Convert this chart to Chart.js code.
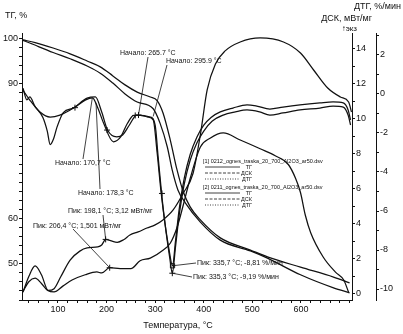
<!DOCTYPE html>
<html>
<head>
<meta charset="utf-8">
<title>ТГ / ДСК / ДТГ</title>
<script src="https://cdn.jsdelivr.net/npm/chart.js@4.4.1/dist/chart.umd.min.js"></script>
<style>
html, body { margin:0; padding:0; background:#fff; }
#wrap { width:403px; height:334px; }
</style>
</head>
<body>
<div id="wrap"><canvas id="c" width="403" height="334"></canvas></div>
<script>
// [temperature °C, value]
var tg1 = [[28,99.8],[53,99.2],[90,98.0],[125,96.7],[160,95.1],[187,93.8],[213,91.8],[238,89.8],[263,88.2],[290,87.1],[304,86.3],[316,83.6],[331,77.6],[345,70.9],[358,66.0],[372,62.7],[393,59.8],[434,55.8],[496,53.1],[531,51.6],[599,49.3],[667,47.1],[700,45.8]];
var tg2 = [[28,99.7],[42,99.1],[90,97.0],[125,95.6],[160,94.0],[187,92.4],[213,90.2],[238,87.8],[263,86.0],[296,84.5],[310,81.3],[325,76.0],[335,70.9],[347,66.4],[362,63.6],[393,59.3],[434,55.3],[496,52.9],[531,51.3],[599,47.6],[667,44.7],[700,43.6]];
var dsc1 = [[28,0.1],[40,1.0],[53,1.6],[66,1.1],[80,0.2],[92,0.3],[106,1.0],[125,1.94],[145,2.45],[160,2.63],[182,2.69],[190,2.8],[198.1,3.12],[208,3.05],[222,2.95],[235,3.1],[248,3.37],[265,3.55],[283,3.77],[300,3.95],[316,4.23],[337,4.8],[358,5.77],[378,6.9],[393,9.1],[407,11.66],[424,13.14],[444,13.89],[475,14.4],[516,14.63],[564,14.4],[599,13.77],[626,12.8],[655,11.77],[681,11.26],[698,10.97],[704,10.4]];
var dsc2 = [[28,0.15],[40,0.7],[53,0.9],[66,0.6],[79,0.2],[92,0.12],[110,0.45],[129,0.8],[156,1.1],[180,1.26],[190,1.2],[206.4,1.501],[228,1.45],[250,1.45],[269,1.9],[290,2.05],[316,2.5],[331,2.9],[345,3.8],[358,5.1],[372,6.6],[393,8.4],[413,8.9],[440,9.2],[475,8.8],[516,8.3],[547,7.9],[574,7.4],[589,6.6],[599,5.8],[609,4.5],[620,3.5],[646,2.1],[671,1.25],[688,0.8],[698,0.1]];
var dtg1 = [[28,0.3],[36,-0.3],[42,-0.15],[53,-0.65],[69,-1.2],[78,-1.9],[84,-2.6],[91,-2.3],[98,-1.7],[111,-0.95],[132,-0.72],[157,-0.3],[171,-0.2],[181,-0.65],[194,-1.5],[214,-2.45],[229,-2.2],[243,-1.5],[256,-1.1],[270,-1.1],[285,-1.18],[296,-1.33],[304,-3.0],[312,-5.0],[320,-6.6],[328,-7.9],[335.7,-8.81],[342,-7.5],[350,-5.8],[360,-4.3],[372,-3.1],[386,-2.2],[400,-1.6],[415,-1.2],[434,-0.92],[460,-0.72],[489,-0.56],[509,-0.62],[536,-0.77],[563,-0.67],[598,-0.56],[639,-0.46],[666,-0.41],[687,-0.46],[697,-0.82],[702,-1.33]];
var dtg2 = [[28,0.2],[42,-0.31],[63,-0.92],[84,-1.18],[104,-1.08],[132,-0.72],[160,-0.21],[177,-0.15],[190,-0.92],[202,-1.85],[221,-2.2],[233,-2.1],[247,-1.59],[262,-1.08],[290,-1.18],[300,-1.6],[306,-3.2],[314,-5.3],[322,-7.0],[330,-8.4],[335.3,-9.19],[342,-7.8],[350,-6.1],[360,-4.6],[372,-3.4],[386,-2.5],[400,-1.9],[417,-1.4],[440,-1.08],[465,-0.92],[489,-0.82],[515,-0.92],[536,-1.08],[563,-0.97],[598,-0.82],[639,-0.72],[666,-0.62],[687,-0.67],[697,-1.08],[702,-1.59]];
// markers on the curves
var dscPeaks = [[198.1,3.12],[206.4,1.501]];
var dtgCross = [[335.3,-9.19],[135,-0.7],[201,-1.85],[259,-1.1],[265.7,-1.08],[314,-5.1]];
var dtgBox = [[335.7,-8.81]];

var tgLabels = [100, 90, 60, 50];
var xLabels = [100, 200, 300, 400, 500, 600];

var FONT = "'Liberation Sans Narrow', 'Liberation Sans', Arial, sans-serif";
var INK = '#111';

function pts(a){ return a.map(function(p){ return {x:p[0], y:p[1]}; }); }
function line(d, axis){
  return { data: pts(d), yAxisID: axis, showLine: true, borderColor: INK, borderWidth: 1.25, pointRadius: 0,
           fill: false, cubicInterpolationMode: 'monotone' };
}
function marks(d, axis, style){
  return { data: pts(d), yAxisID: axis, showLine: false, pointStyle: style, pointRadius: 3,
           borderColor: INK, backgroundColor: 'transparent', borderWidth: 1 };
}

// text notes with leader lines to curve points
var notes = [
  {t:'Начало: 265.7 °C', x:120, y:53, ax:148, ay:57, p:[265.7,-1.08], s:'dtg'},
  {t:'Начало: 295.9 °C', x:166, y:61, ax:167, ay:65, p:[295.9,-1.15], s:'dtg'},
  {t:'Начало: 170,7 °C', x:55, y:163, ax:83, ay:159, p:[170.7,-0.2], s:'dtg'},
  {t:'Начало: 178,3 °C', x:78, y:193, ax:100, ay:189, p:[178.3,-0.45], s:'dtg'},
  {t:'Пик: 198,1 °C; 3,12 мВт/мг', x:68, y:211, ax:103, ay:215, p:[198.1,3.12], s:'dsc'},
  {t:'Пик: 206,4 °C; 1,501 мВт/мг', x:33, y:226, ax:73, ay:229, p:[206.4,1.501], s:'dsc'},
  {t:'Пик: 335,7 °C; -8,81 %/мин', x:197, y:263, ax:196, ay:263, p:[335.7,-8.81], s:'dtg'},
  {t:'Пик: 335,3 °C; -9,19 %/мин', x:193, y:277, ax:192, ay:277, p:[335.3,-9.19], s:'dtg'}
];

var decor = {
  id: 'decor',
  afterDraw: function(chart){
    var c = chart.ctx, sx = chart.scales.x;
    c.save();
    c.fillStyle = INK; c.strokeStyle = INK; c.lineWidth = 0.8;
    c.textBaseline = 'middle';
    c.font = '7px ' + FONT;
    notes.forEach(function(n){
      var px = sx.getPixelForValue(n.p[0]), py = chart.scales[n.s].getPixelForValue(n.p[1]);
      c.beginPath(); c.moveTo(n.ax, n.ay); c.lineTo(px, py); c.stroke();
      c.textAlign = 'left';
      c.fillText(n.t, n.x, n.y);
    });
    // axis titles
    c.font = '9px ' + FONT;
    c.textAlign = 'left';
    c.fillText('ТГ, %', 5, 16);
    c.textAlign = 'right';
    c.fillText('ДТГ, %/мин', 401, 7);
    c.fillText('ДСК, мВт/мг', 372, 19);
    c.font = '8px ' + FONT;
    c.fillText('↑экз', 357, 29);
    c.textAlign = 'center';
    c.font = '9px ' + FONT;
    c.fillText('Температура, °C', 178, 326);
    // curve legend
    c.font = '5.5px ' + FONT;
    c.textAlign = 'left';
    var rows = [['[1] 0212_ognes_traska_20_700_Al2O3_ar50.dsv', 161], ['[2] 0211_ognes_traska_20_700_Al2O3_ar50.dsv', 187]];
    var kinds = [['ТГ', []], ['ДСК', [3, 1.5]], ['ДТГ', [1, 1.5]]];
    rows.forEach(function(r){
      c.textAlign = 'left';
      c.fillText(r[0], 203, r[1]);
      kinds.forEach(function(k, i){
        var yy = r[1] + 6 + i * 6;
        c.setLineDash(k[1]);
        c.beginPath(); c.moveTo(205, yy); c.lineTo(240, yy); c.stroke();
        c.setLineDash([]);
        c.textAlign = 'right';
        c.fillText(k[0], 252, yy);
      });
    });
    c.restore();
  }
};

function axis(extra){
  var o = {
    type: 'linear',
    grid: { drawOnChartArea: false, tickLength: 3, color: INK, tickColor: INK },
    border: { color: INK, width: 1 },
    ticks: { color: INK, font: { family: FONT, size: 9 }, padding: 1, autoSkip: false, maxRotation: 0, includeBounds: false }
  };
  for (var k in extra) {
    if (k === 'ticks') { for (var t in extra.ticks) o.ticks[t] = extra.ticks[t]; }
    else o[k] = extra[k];
  }
  return o;
}

new Chart(document.getElementById('c'), {
  type: 'scatter',
  data: { datasets: [
    line(tg1, 'tg'), line(tg2, 'tg'),
    line(dsc1, 'dsc'), line(dsc2, 'dsc'),
    line(dtg1, 'dtg'), line(dtg2, 'dtg'),
    marks(dscPeaks, 'dsc', 'cross'), marks(dtgCross, 'dtg', 'cross'), marks(dtgBox, 'dtg', 'rect')
  ]},
  options: {
    responsive: false,
    devicePixelRatio: 1,
    animation: false,
    layout: { padding: { top: 33 } },
    plugins: { legend: { display: false }, tooltip: { enabled: false } },
    scales: {
      x: axis({ min: 26, max: 705, afterFit: function(s){ s.height = 34; },
        ticks: { stepSize: 20, callback: function(v){ return xLabels.indexOf(v) >= 0 ? String(v) : ''; } } }),
      tg: axis({ position: 'left', min: 42, max: 101.33, afterFit: function(s){ s.width = 22; },
        ticks: { stepSize: 2, callback: function(v){ return tgLabels.indexOf(v) >= 0 ? String(v) : ''; } } }),
      dsc: axis({ position: 'right', min: -0.343, max: 14.914, afterFit: function(s){ s.width = 24; },
        ticks: { stepSize: 1, callback: function(v){ return v % 2 === 0 ? String(v) : ''; } } }),
      dtg: axis({ position: 'right', min: -10.564, max: 3.128, afterFit: function(s){ s.width = 27; },
        ticks: { stepSize: 1, callback: function(v){ return v % 2 === 0 ? String(v) : ''; } } })
    }
  },
  plugins: [decor]
});
</script>
</body>
</html>
